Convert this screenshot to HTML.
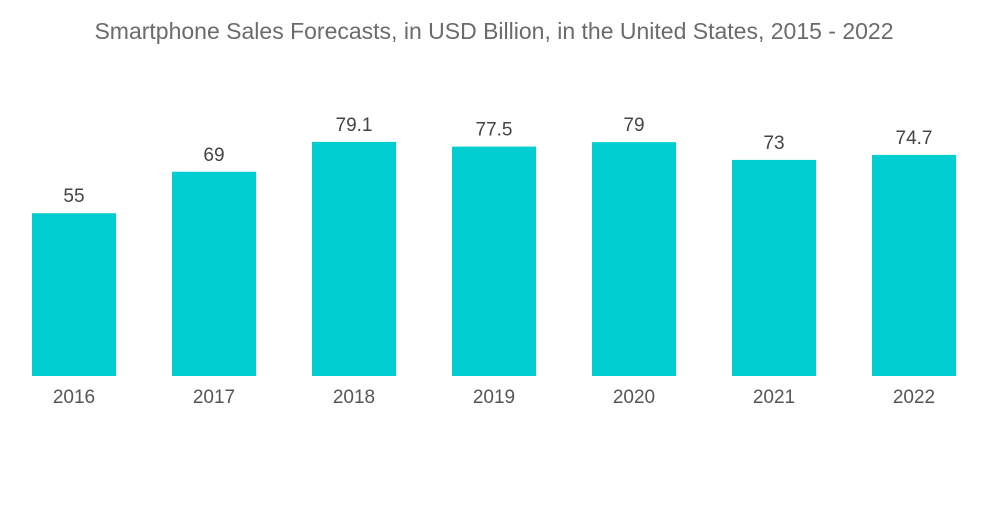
<!DOCTYPE html>
<html>
<head>
<meta charset="utf-8">
<style>
  html,body{margin:0;padding:0;background:#fff;}
  body{width:1000px;height:504px;overflow:hidden;font-family:"Liberation Sans",sans-serif;}
  svg text{font-family:"Liberation Sans",sans-serif;}
</style>
</head>
<body>
<svg id="chart" width="1000" height="504" viewBox="0 0 1000 504">
  <text x="494" y="39" text-anchor="middle" font-size="23" fill="#6b6b6b">Smartphone Sales Forecasts, in USD Billion, in the United States, 2015 - 2022</text>
  <g id="bars"></g>
  <g id="xlabels"></g>
  <g id="vlabels"></g>
</svg>
<script>
const categories = ["2016","2017","2018","2019","2020","2021","2022"];
const values = [55, 69, 79.1, 77.5, 79, 73, 74.7];
const valueLabels = ["55","69","79.1","77.5","79","73","74.7"];

const ns = "http://www.w3.org/2000/svg";
const baseY = 376, pxPerUnit = 2.96;
const firstX = 32, step = 140, barW = 84;
function xPos(i){ return firstX + i*step; }
function yPos(v){ return baseY - v*pxPerUnit; }

const gb = document.getElementById('bars');
const gx = document.getElementById('xlabels');
const gv = document.getElementById('vlabels');
categories.forEach((c,i)=>{
  const v = values[i];
  const r = document.createElementNS(ns,'rect');
  r.setAttribute('x', xPos(i));
  r.setAttribute('y', yPos(v));
  r.setAttribute('width', barW);
  r.setAttribute('height', baseY - yPos(v));
  r.setAttribute('fill', '#00ced1');
  
  
  gb.appendChild(r);

  const t = document.createElementNS(ns,'text');
  t.setAttribute('x', xPos(i) + barW/2);
  t.setAttribute('y', 403);
  t.setAttribute('text-anchor','middle');
  t.setAttribute('font-size','19');
  t.setAttribute('fill','#555');
  t.textContent = c;
  
  
  gx.appendChild(t);

  const l = document.createElementNS(ns,'text');
  l.setAttribute('x', xPos(i) + barW/2);
  l.setAttribute('y', yPos(v) - 11);
  l.setAttribute('text-anchor','middle');
  l.setAttribute('font-size','19');
  l.setAttribute('fill','#444');
  l.textContent = valueLabels[i];
  
  
  gv.appendChild(l);
});
</script>
</body>
</html>
